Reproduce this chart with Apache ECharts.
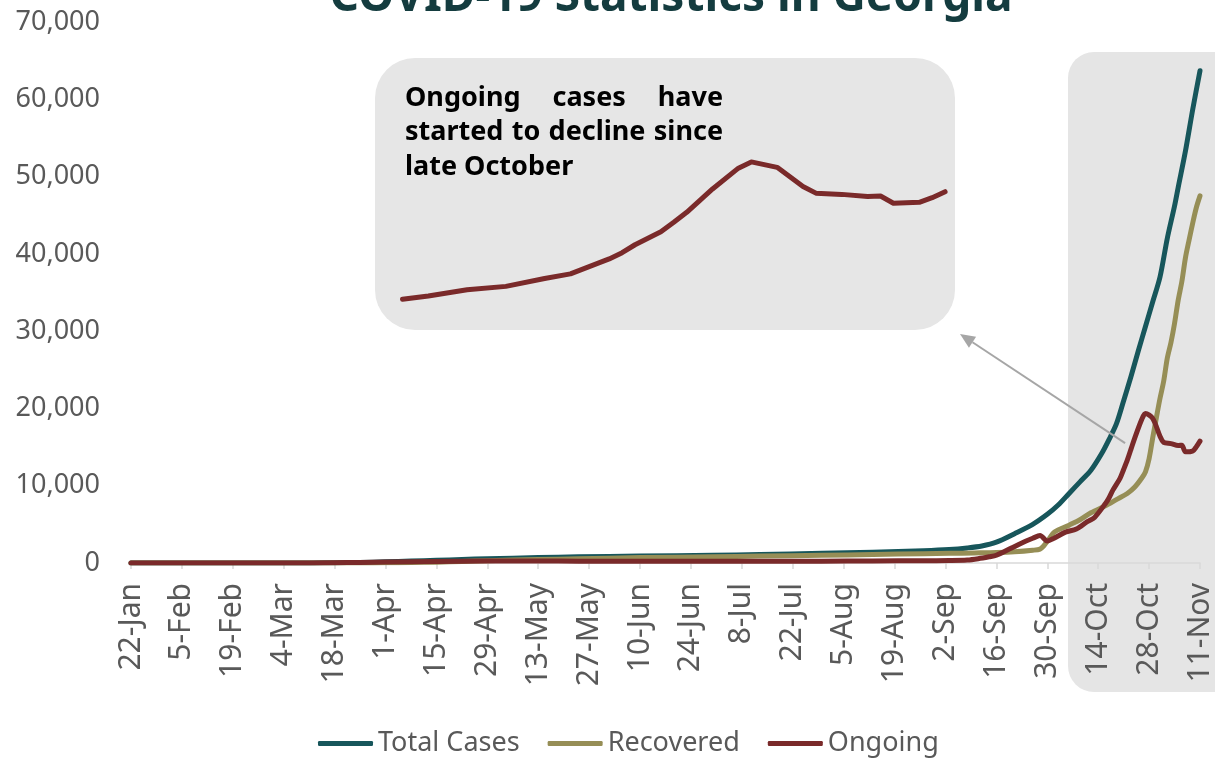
<!DOCTYPE html>
<html><head><meta charset="utf-8">
<script src="https://cdn.jsdelivr.net/npm/echarts@6/dist/echarts.min.js"></script>
<style>html,body{margin:0;padding:0;background:#fff}#c{width:1215px;height:761px}</style>
</head><body><div id="c"></div>
<script>
// ---- data (day offset from 22-Jan-2020) ----
const tickLabels = ['22-Jan','5-Feb','19-Feb','4-Mar','18-Mar','1-Apr','15-Apr','29-Apr','13-May','27-May','10-Jun','24-Jun','8-Jul','22-Jul','5-Aug','19-Aug','2-Sep','16-Sep','30-Sep','14-Oct','28-Oct','11-Nov'];

const totalDays  = [0,42,50,56,63,70,77,84,91,98,112,123,140,160,173,190,204,218,225,230,234,238,243,248,252,255,258,261,264,267,269,271,273,275,277,279,281,283,285,287,288,290,292,294];
const totalCases = [0,0,10,30,80,150,250,350,450,550,700,800,900,1000,1100,1250,1400,1600,1750,1950,2200,2700,3800,5000,6300,7500,9000,10500,12000,14200,16000,18000,21000,24100,27400,30600,33800,37000,42000,46200,48600,53300,58700,63700];

const recoveredDays = [0,63,70,77,84,91,98,112,123,140,160,173,190,204,218,225,232,238,243,248,250,251,252,254,258,261,264,268,271,274,276,278,279,280,281,282,283,284,285,286,287,288,289,290,291,292,293,294];
const recovered     = [0,0,20,60,110,200,300,450,550,700,800,900,1000,1100,1200,1250,1300,1350,1450,1650,1800,2200,2800,4000,4900,5600,6500,7400,8200,9000,9800,11000,11800,13500,16200,18800,21300,23500,26500,28500,31000,34000,36400,39500,41800,44000,46000,47500];

const ongoingDays = [0,42,56,63,70,84,98,112,123,140,160,173,190,204,218,225,230,233,236,238,242,245,248,250,252,254,257,260,263,265,268,269,270,272,273,274,275,276,278,279,281,283,284,286,288,289,290,292,293,294];
const ongoing     = [0,0,30,80,120,200,250,260,240,240,220,230,240,260,300,320,380,550,800,1000,1900,2600,3200,3550,2850,3250,4000,4400,5350,5900,7700,8450,9400,10960,12100,13300,14700,16100,18600,19350,18700,16400,15600,15450,15200,15250,14380,14500,15050,15770];

const insetFromDay = 252;
const noteLines = ['Ongoing cases have', 'started to decline since', 'late October'];

// ---- styles ----
const FONT = '"Noto Sans", sans-serif';
const C_TOTAL = '#17565b', C_REC = '#968e56', C_ONG = '#7a2a2a';
const GREY_TXT = '#595959';

const pairs = (d, v) => d.map((x, i) => [x, v[i]]);
const ongoingInset = pairs(ongoingDays, ongoing).filter(p => p[0] >= insetFromDay);

const chart = echarts.init(document.getElementById('c'));
const lineCommon = {type: 'line', showSymbol: false, symbol: 'none', smooth: 0.3,
  lineStyle: {width: 5, cap: 'round', join: 'round'}, emphasis: {disabled: true}};

chart.setOption({
  animation: false,
  grid: [
    {left: 131, right: 13, top: 22, bottom: 198},
    {left: 402.5, width: 542.6, top: 156.5, height: 166.5}
  ],
  xAxis: [
    {type: 'value', min: 0, max: 294, interval: 14,
     axisLine: {show: true, lineStyle: {color: '#d9d9d9', width: 1.5}},
     axisTick: {show: true, length: 6, lineStyle: {color: '#d9d9d9', width: 1.5}},
     splitLine: {show: false},
     axisLabel: {rotate: 90, margin: 20, fontSize: 30, fontFamily: FONT, color: GREY_TXT,
       showMinLabel: true, showMaxLabel: true,
       formatter: v => tickLabels[Math.round(v / 14)] || ''}},
    {gridIndex: 1, type: 'value', min: insetFromDay, max: 294, show: false}
  ],
  yAxis: [
    {type: 'value', min: 0, max: 70000, interval: 10000,
     axisLine: {show: false}, axisTick: {show: false}, splitLine: {show: false},
     axisLabel: {margin: 31, fontSize: 27, fontFamily: FONT, color: GREY_TXT,
       formatter: v => String(v).replace(/\B(?=(\d{3})+(?!\d))/g, ',')}},
    {gridIndex: 1, type: 'value', min: 0, max: 20000, show: false}
  ],
  legend: {
    left: 313, top: 725, icon: 'roundRect', itemWidth: 55, itemHeight: 5, itemGap: 28,
    textStyle: {fontSize: 27, fontFamily: FONT, color: GREY_TXT},
    data: ['Total Cases', 'Recovered', 'Ongoing']
  },
  series: [
    Object.assign({}, lineCommon, {name: 'Total Cases', color: C_TOTAL, data: pairs(totalDays, totalCases), z: 3}),
    Object.assign({}, lineCommon, {name: 'Recovered', color: C_REC, data: pairs(recoveredDays, recovered), z: 4}),
    Object.assign({}, lineCommon, {name: 'Ongoing', color: C_ONG, data: pairs(ongoingDays, ongoing), z: 5}),
    {type: 'line', name: 'inset', xAxisIndex: 1, yAxisIndex: 1, data: ongoingInset, color: C_ONG,
     symbol: 'none', showSymbol: false, smooth: false, z: 5, emphasis: {disabled: true},
     lineStyle: {width: 5, cap: 'round', join: 'round'}}
  ]
});

// ---- annotations ----
const ctx = document.createElement('canvas').getContext('2d');
const noteFont = 'bold 27px "Noto Sans"';
ctx.font = noteFont;
const noteLeft = 405, noteRight = 723, noteY = [98, 132, 167];
const textEls = [];
noteLines.forEach((line, li) => {
  const words = line.split(' ');
  if (li < noteLines.length - 1) {
    const widths = words.map(w => ctx.measureText(w).width);
    const sum = widths.reduce((a, b) => a + b, 0);
    const gap = (noteRight - noteLeft - sum) / (words.length - 1);
    let x = noteLeft;
    words.forEach((w, i) => {
      textEls.push({type: 'text', z: 10, style: {text: w, x: x, y: noteY[li], font: noteFont, fill: '#000',
        textAlign: 'left', textVerticalAlign: 'middle'}});
      x += widths[i] + gap;
    });
  } else {
    textEls.push({type: 'text', z: 10, style: {text: line, x: noteLeft, y: noteY[li], font: noteFont, fill: '#000',
      textAlign: 'left', textVerticalAlign: 'middle'}});
  }
});

const start = chart.convertToPixel({xAxisIndex: 0, yAxisIndex: 0}, [273.4, 15500]);
const tip = [960, 334];
const ang = Math.atan2(start[1] - tip[1], start[0] - tip[0]);
const L = 15, W = 6.5;
const bx = tip[0] + L * Math.cos(ang), by = tip[1] + L * Math.sin(ang);
const head = [tip, [bx - W * Math.sin(ang), by + W * Math.cos(ang)], [bx + W * Math.sin(ang), by - W * Math.cos(ang)]];

chart.setOption({
  graphic: [
    {type: 'rect', z: -10, shape: {x: 1068, y: 52, width: 180, height: 640, r: 26}, style: {fill: '#e5e5e5'}},
    {type: 'rect', z: -10, shape: {x: 375, y: 58, width: 580, height: 272, r: 40}, style: {fill: '#e6e6e6'}},
    {type: 'line', z: 10, shape: {x1: start[0], y1: start[1], x2: bx, y2: by}, style: {stroke: '#a6a6a6', lineWidth: 2}},
    {type: 'polygon', z: 10, shape: {points: head}, style: {fill: '#a6a6a6'}},
    {type: 'text', z: 10, style: {text: 'COVID-19 Statistics in Georgia', x: 671, y: -2, font: 'bold 46px "Noto Sans"',
      fill: '#143c3f', textAlign: 'center', textVerticalAlign: 'middle'}}
  ].concat(textEls)
});
</script></body></html>
